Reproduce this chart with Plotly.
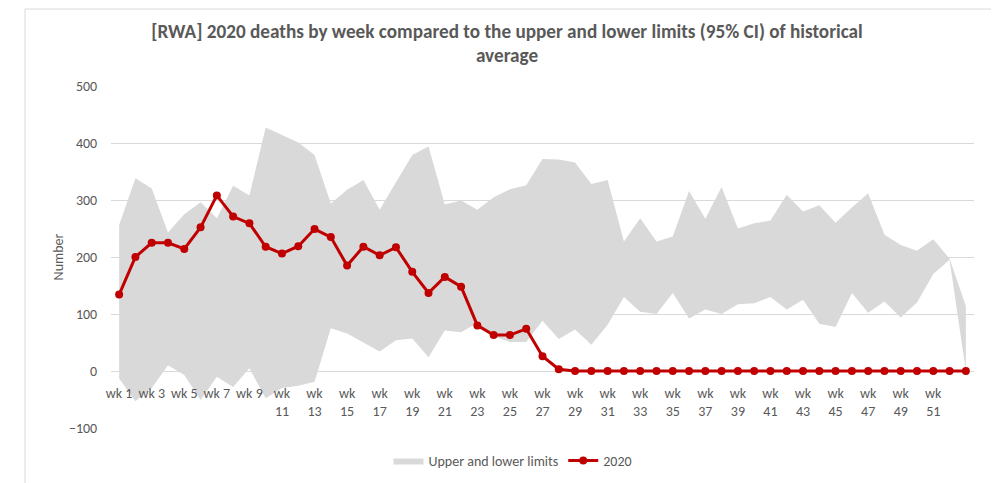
import plotly.graph_objects as go

weeks = list(range(1, 54))
deaths_2020 = [134, 200, 225, 225, 214, 252, 308, 271, 259, 218,
               206, 219, 249, 235, 185, 218, 203, 217, 174, 137,
               165, 148, 80, 63, 63, 74, 26, 3, 0, 0,
               0, 0, 0, 0, 0, 0, 0, 0, 0, 0,
               0, 0, 0, 0, 0, 0, 0, 0, 0, 0,
               0, 0, 0]
upper_limit = [256, 338, 320, 243, 275, 296, 268, 325, 308, 427,
               414, 401, 379, 294, 318, 335, 283, 330, 379, 394,
               292, 299, 283, 305, 319, 326, 372, 371, 366, 328,
               335, 227, 268, 227, 236, 316, 267, 323, 250, 259,
               264, 309, 280, 291, 260, 287, 312, 239, 221, 211,
               231, 197, 114]
lower_limit = [-13, -53, -30, 10, -7, -51, -10, -28, 5, -48,
               -30, -26, -19, 75, 66, 50, 34, 54, 57, 24,
               71, 68, 84, 61, 51, 51, 88, 56, 73, 46,
               81, 130, 104, 100, 137, 92, 108, 100, 117, 119,
               130, 108, 125, 83, 77, 137, 102, 122, 94, 120,
               170, 195, 0]
tick_weeks = list(range(1, 52, 2))
tick_labels = ["wk 1", "wk 3", "wk 5", "wk 7", "wk 9"] + \
    [f"wk<br>{w}" for w in range(11, 52, 2)]
y_ticks = [-100, 0, 100, 200, 300, 400, 500]

FONT = "Calibri, Carlito, Lato, sans-serif"
GREY_TXT = "#595959"

fig = go.Figure()
fig.add_trace(go.Scatter(x=weeks, y=lower_limit, mode="lines",
                         line=dict(width=0, color="#d9d9d9"),
                         showlegend=False, hoverinfo="skip"))
fig.add_trace(go.Scatter(x=weeks, y=upper_limit, mode="lines",
                         line=dict(width=0, color="#d9d9d9"),
                         fill="tonexty", fillcolor="#d9d9d9",
                         name="Upper and lower limits"))
fig.add_trace(go.Scatter(x=weeks, y=deaths_2020, mode="lines+markers",
                         line=dict(width=3, color="#c00000"),
                         marker=dict(size=8, color="#c00000"),
                         name="2020"))

# page is offset by the 8px body margin; work in page pixels and shift
OFF = 8
W, H = 999 - OFF, 483 - OFF
L, T = 111 - OFF, 86 - OFF
pw, ph = 863, 342
R, B = W - L - pw, H - T - ph

def px_x(p):
    return (p - OFF - L) / pw

def px_y(p):
    return (T + ph - (p - OFF)) / ph

fig.update_layout(
    width=W, height=H,
    margin=dict(l=L, r=R, t=T, b=B, autoexpand=False),
    paper_bgcolor="white", plot_bgcolor="white",
    font=dict(family=FONT, size=14, color=GREY_TXT),
    title=dict(text="[RWA] 2020 deaths by week compared to the upper and lower limits (95% CI) of historical<br>average",
               font=dict(family=FONT, size=19.2, color=GREY_TXT, weight="bold"),
               x=(507 - OFF) / W, xref="container", xanchor="center",
               y=1 - 29.5 / H, yref="container", yanchor="top"),
    legend=dict(orientation="h", x=(513 - OFF) / W, xref="container", xanchor="center",
                y=1 - (461 - OFF) / H, yref="container", yanchor="middle",
                traceorder="normal",
                font=dict(family=FONT, size=14, color=GREY_TXT),
                bgcolor="rgba(0,0,0,0)"),
    xaxis=dict(range=[0.5, 53.5], tickmode="array", tickvals=tick_weeks,
               ticktext=tick_labels, showgrid=False, zeroline=False,
               showline=False, anchor="free", position=1 / 6,
               ticks="outside", ticklen=9, tickcolor="rgba(0,0,0,0)",
               tickangle=0, automargin=False,
               tickfont=dict(family=FONT, size=14, color=GREY_TXT)),
    yaxis=dict(range=[-100, 500], tickmode="array", tickvals=y_ticks,
               showgrid=True, gridcolor="#d9d9d9", gridwidth=1,
               zeroline=False, showline=False, automargin=False,
               ticks="outside", ticklen=10, tickcolor="rgba(0,0,0,0)",
               tickfont=dict(family=FONT, size=14, color=GREY_TXT),
               title=dict(text="Number", standoff=2,
                          font=dict(family=FONT, size=14, color=GREY_TXT))),
    shapes=[dict(type="rect", xref="paper", yref="paper",
                 x0=px_x(25), x1=px_x(993), y0=px_y(500), y1=px_y(9),
                 line=dict(color="#d9d9d9", width=1), fillcolor="rgba(0,0,0,0)",
                 layer="below")],
)

fig.write_html("out.html")
